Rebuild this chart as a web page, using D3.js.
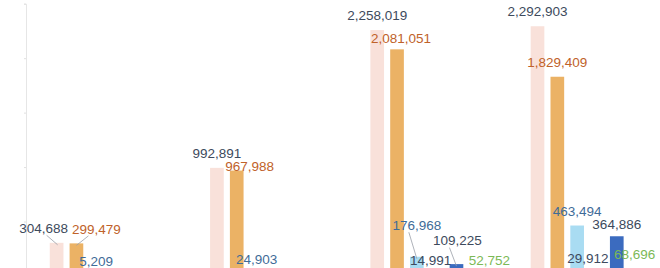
<!DOCTYPE html>
<html>
<head>
<meta charset="utf-8">
<script src="https://cdn.jsdelivr.net/npm/d3@7"></script>
<style>
  html, body { margin: 0; padding: 0; background: #fff; }
  svg { display: block; }
</style>
</head>
<body>
<div id="chart"></div>
<script>
// Chart data (bottom of the original chart is cropped off)
const groups = ["g1", "g2", "g3", "g4"];
const seriesNames = ["total", "partA", "partB", "partB1", "partB2", "partB3"];
const total  = [304688, 992891, 2258019, 2292903];
const partA  = [299479, 967988, 2081051, 1829409];
const partB  = [5209, 24903, 176968, 463494];
const partB1 = [null, null, 14991, 29912];
const partB2 = [null, null, 109225, 364886];
const partB3 = [null, null, 52752, 68696];
const yTicks = [0, 500000, 1000000, 1500000, 2000000, 2500000];

const seriesValues = [total, partA, partB, partB1, partB2, partB3];
const barColors   = ["#f9e1da", "#ebb265", "#a9dcf2", "#6fa8dc", "#3b6bbf", "#91cc75"];
const labelColors = ["#3d4a5c", "#c0622a", "#3f6c98", "#3d4a5e", "#3d4a5c", "#7cb956"];

// label nudges [dx, dy] away from the default "top" spot, per series per group
// (the original layout moved some labels to avoid overlaps)
const labelNudge = [
  [[-13, 0], [0, 0], [0, 0], [0, 0]],
  [[20, 0], [13, 10], [4, 3], [0, 0]],
  [[0, 0], [0, 0], [0, -17], [0, 0]],
  [[0, 0], [0, 0], [-6, 0], [-9, 0]],
  [[0, 0], [0, 0], [1, -9], [0, 3]],
  [[0, 0], [0, 0], [13, 5], [-2, 0]]
];
// labels that got a leader line back to their bar: [series, group]
const leaders = [[0, 0], [1, 0], [2, 2], [4, 2]];

const width = 660, height = 268;
const margin = {left: 26};
const baseY = 276; // zero line sits below the visible area

const svg = d3.select("#chart").append("svg")
    .attr("width", width)
    .attr("height", height);

const x0 = d3.scaleBand()
    .domain(groups)
    .range([margin.left, margin.left + 4 * 160.3])
    .paddingInner(0);

const x1 = d3.scaleBand()
    .domain(seriesNames)
    .range([0, x0.bandwidth()])
    .paddingInner(0.31)
    .paddingOuter(1.2);

const y = d3.scaleLinear()
    .domain([0, 2500000])
    .range([baseY, 3.7]);

// y axis: only line + faint ticks, labels are cut off in the source
const yAxis = svg.append("g")
    .attr("transform", `translate(${margin.left},0)`)
    .call(d3.axisLeft(y).tickValues(yTicks).tickSize(2).tickFormat(""));
yAxis.select(".domain").attr("stroke", "#e6e6e6");
yAxis.selectAll(".tick line").attr("stroke", "#e0e0e0");

// flatten for drawing
const bars = [];
seriesValues.forEach((vals, si) => {
  vals.forEach((v, gi) => {
    if (v == null) return;
    bars.push({si, gi, value: v});
  });
});

const barX = d => x0(groups[d.gi]) + x1(seriesNames[d.si]);
const barCx = d => barX(d) + x1.bandwidth() / 2;

svg.append("g").selectAll("rect")
  .data(bars)
  .join("rect")
    .attr("x", barX)
    .attr("y", d => y(d.value))
    .attr("width", x1.bandwidth())
    .attr("height", d => y(0) - y(d.value))
    .attr("fill", d => barColors[d.si]);

const fmt = d3.format(",");
const labelX = d => barCx(d) + labelNudge[d.si][d.gi][0];
const labelY = d => y(d.value) - 14.5 + labelNudge[d.si][d.gi][1];

// leader lines
const leaderBars = bars.filter(d => leaders.some(l => l[0] === d.si && l[1] === d.gi));
svg.append("g").selectAll("line")
  .data(leaderBars)
  .join("line")
    .attr("x1", d => labelX(d) + (labelX(d) < barCx(d) ? 3 : -8))
    .attr("y1", d => labelY(d) + 7)
    .attr("x2", d => barCx(d) + (labelX(d) < barCx(d) ? 1 : 0))
    .attr("y2", d => Math.max(y(d.value), labelY(d) + 10) + 2)
    .attr("stroke", "#9aa0a8")
    .attr("stroke-width", 0.8);

svg.append("g").selectAll("text")
  .data(bars)
  .join("text")
    .attr("x", labelX)
    .attr("y", labelY)
    .attr("dy", "0.35em")
    .attr("text-anchor", "middle")
    .style("font-family", "'Helvetica Neue', Arial, 'Liberation Sans', sans-serif")
    .style("font-size", "13.5px")
    .attr("fill", d => labelColors[d.si])
    .text(d => fmt(d.value));
</script>
</body>
</html>
